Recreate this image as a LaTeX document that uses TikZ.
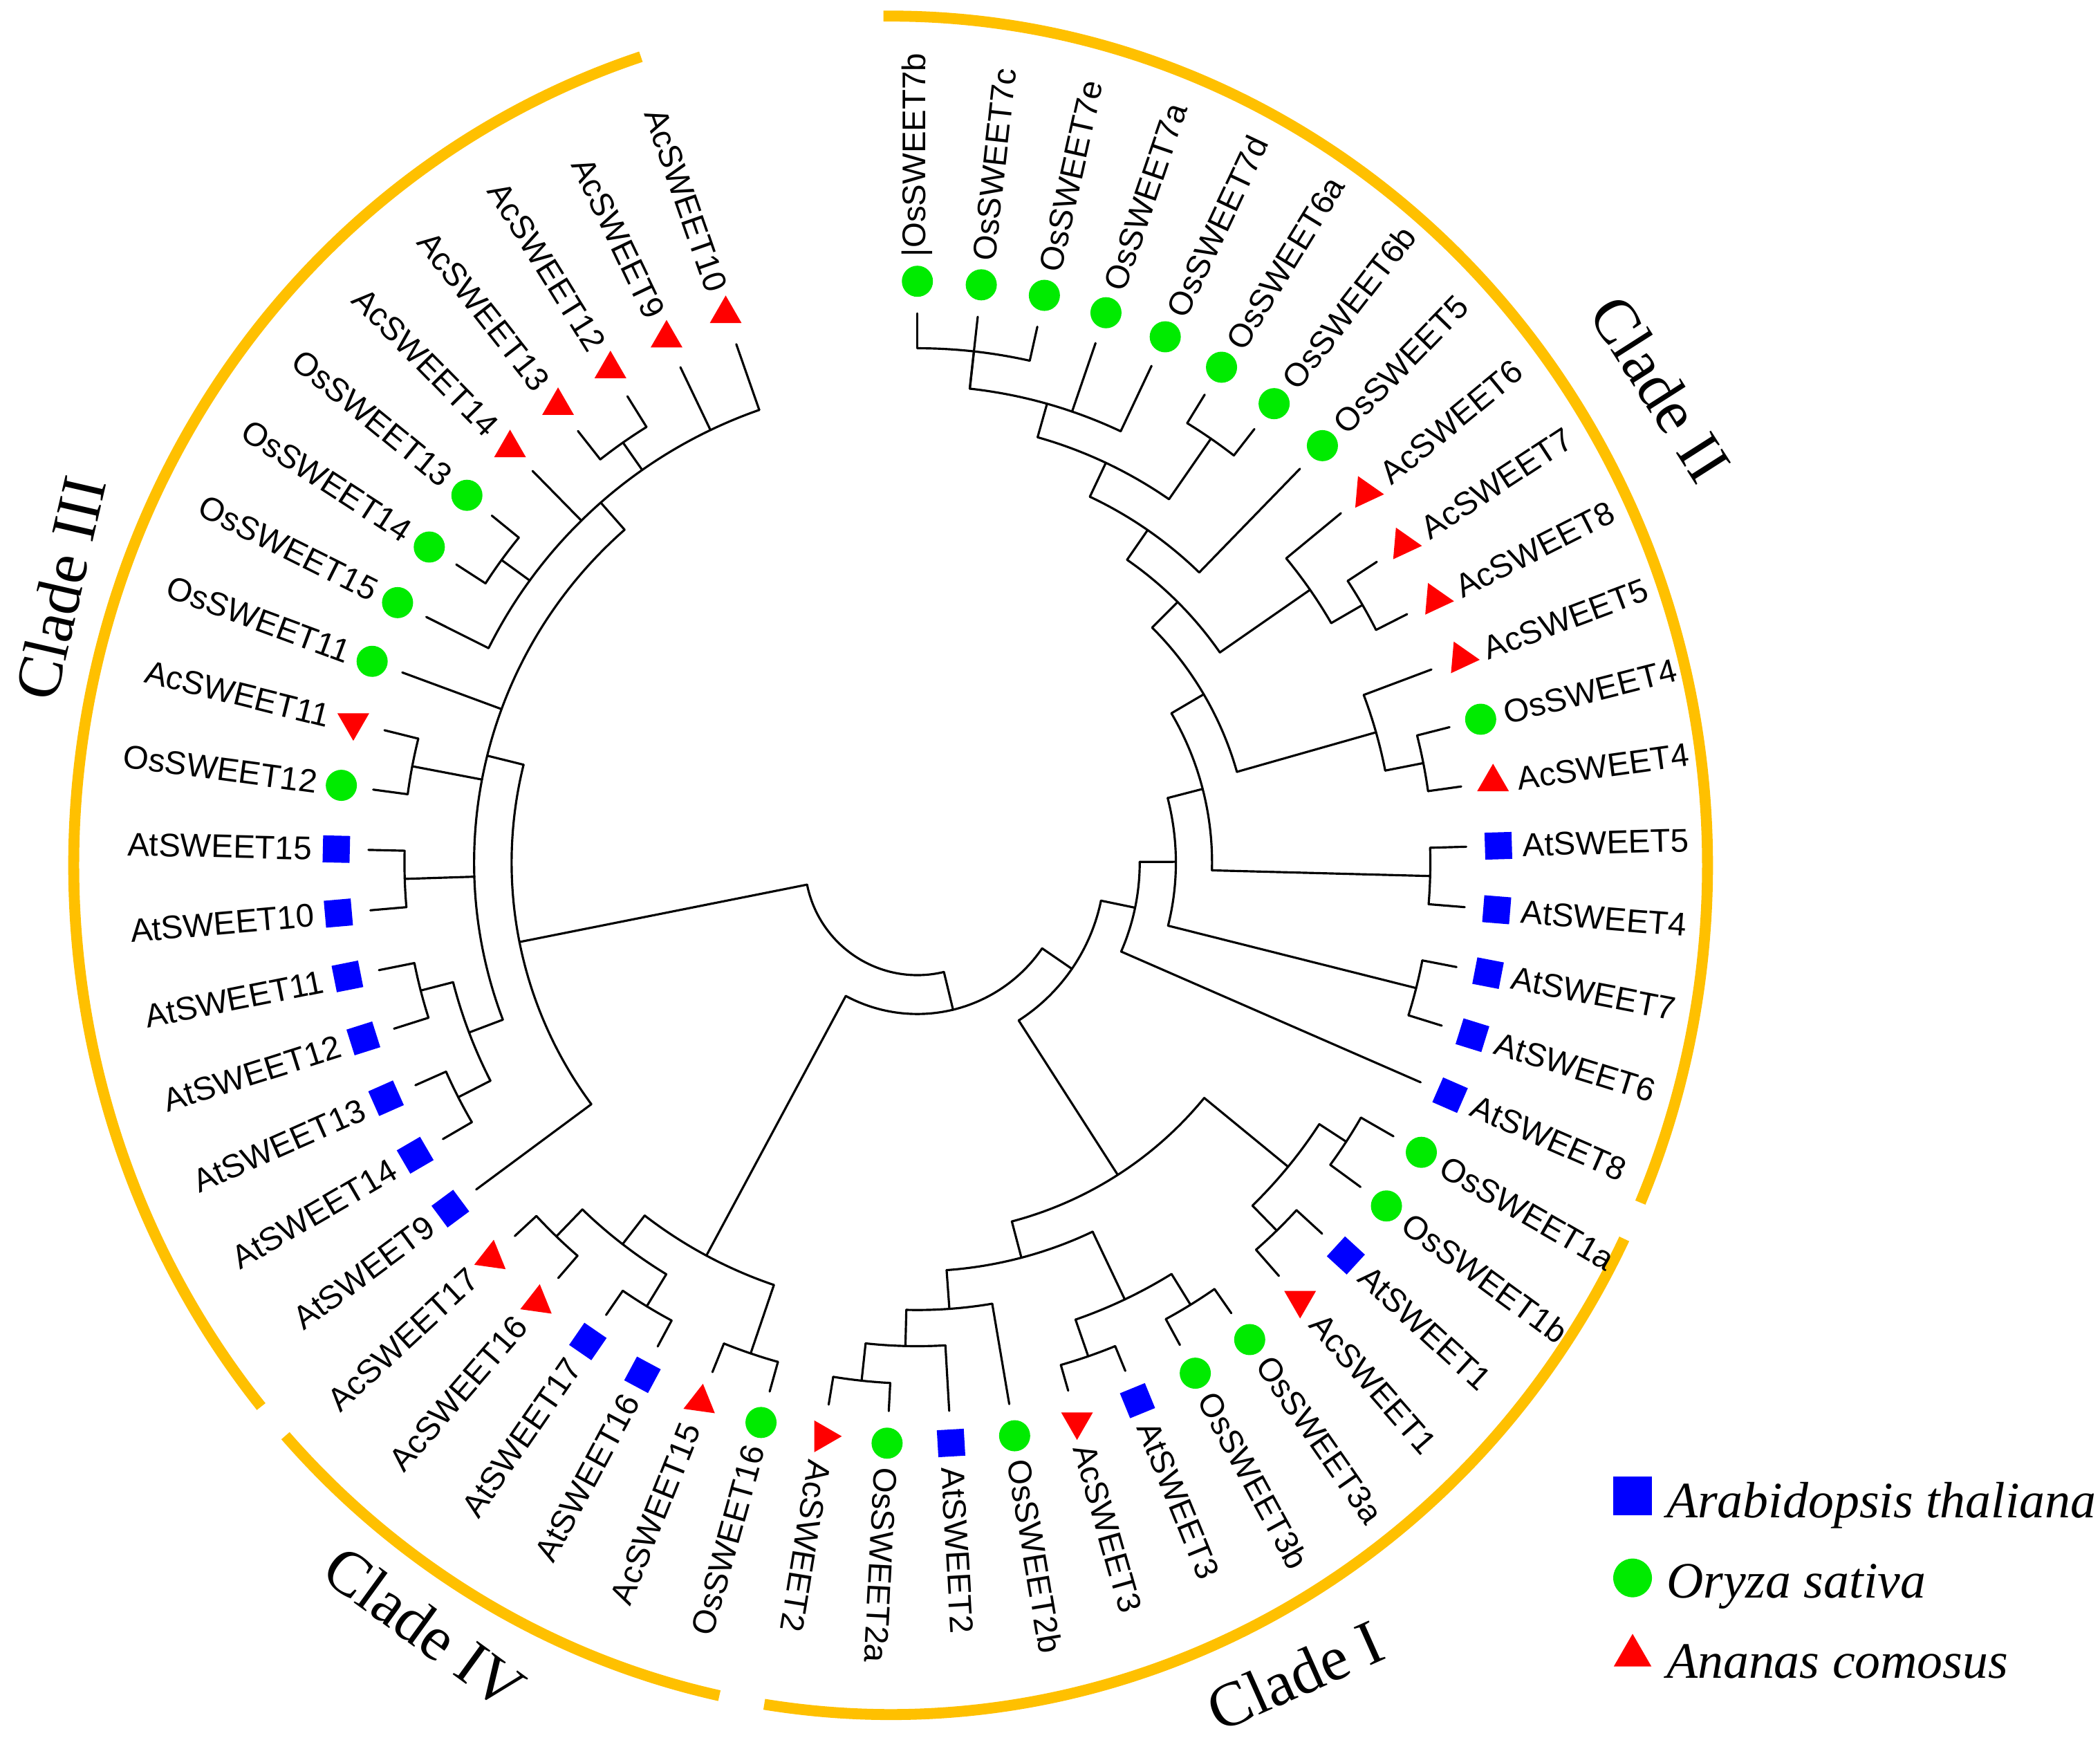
\documentclass[tikz,border=0pt]{standalone}
\usepackage{fontspec}
\setmainfont{Liberation Serif}
\newfontfamily\genefont{Liberation Sans}
\usetikzlibrary{shapes.geometric}
\definecolor{cladeorange}{RGB}{255,192,0}
\definecolor{atblue}{RGB}{0,0,255}
\definecolor{osgreen}{RGB}{0,235,0}
\definecolor{acred}{RGB}{255,0,0}
\newcommand{\leafstep}{6.31}
\newcommand{\tipradius}{410}
\newcommand{\markradius}{434}
\newcommand{\labelradius}{452}

\tikzset{
  branch/.style={line width=0.9pt, line cap=round, line join=round},
  atshape/.style={rectangle, fill=atblue, inner sep=0pt},
  osshape/.style={circle, fill=osgreen, inner sep=0pt},
  acshape/.style={regular polygon, regular polygon sides=3, fill=acred, inner sep=0pt},
  atmark/.style={atshape, minimum size=3.9mm, rotate=\a},
  osmark/.style={osshape, minimum size=4.5mm},
  acmark/.style={acshape, minimum size=5.3mm},
  genelabel/.style={inner sep=0pt, font={\genefont\fontsize{13.5}{16}\selectfont}},
  cladering/.style={draw=cladeorange, line width=4.5pt},
  cladelabel/.style={inner sep=0pt, font={\fontsize{26}{30}\selectfont}},
  legendtext/.style={anchor=base west, inner sep=0pt, font={\itshape\fontsize{21}{24}\selectfont}}
}

\begin{document}
\begin{tikzpicture}[x=0.19369mm, y=0.19369mm]
  \useasboundingbox (-685,-668) rectangle (883,644);

  % orange clade rings
  \draw[cladering] (-20,-2) ++(90.5:610 and 634) arc[start angle=90.5, end angle=-23.4, x radius=610, y radius=634];
  \draw[cladering] (-20,-2) ++(-26.1:610 and 634) arc[start angle=-26.1, end angle=-98.9, x radius=610, y radius=634];
  \draw[cladering] (-20,-2) ++(-102.1:610 and 634) arc[start angle=-102.1, end angle=-137.8, x radius=610, y radius=634];
  \draw[cladering] (-20,-2) ++(-140.4:610 and 634) arc[start angle=-140.4, end angle=-252.2, x radius=610, y radius=634];

  % internal branches: name/radius/first/last/stem/parent radius
  \foreach \nm/\r/\aa/\ab/\st/\pr in {
      os7be/384/90/77.38/83.69/356, os7/356/83.69/64.76/74.22/330,
      os6ab/385/58.45/52.14/55.30/330, os67/330/74.22/55.30/64.76/302,
      os567/302/64.76/45.83/55.30/275, ac78/384/33.21/26.90/30.06/357,
      ac678/357/39.52/30.06/34.79/275, osac/275/55.30/34.79/45.04/248,
      osac4/385/14.28/7.97/11.13/356, ac5os4/356/20.59/11.13/15.86/248,
      cladeIIa/248/45.04/15.86/30.45/220, at45/383/1.66/-4.65/-1.50/220,
      cladeIIb/220/30.45/-1.50/14.48/193, at67/384/-10.96/-17.27/-14.12/193,
      cladeIIc/193/14.48/-14.12/0.18/166, cladeII/166/0.18/-23.58/-11.70/140,
      os1ab/382/-29.89/-36.20/-33.05/358, atac1/384/-42.51/-48.82/-45.67/358,
      cladeIa/358/-33.05/-45.67/-39.36/277, os3ab/388/-55.13/-61.44/-58.29/361,
      atac3/390/-67.75/-74.06/-70.91/361, cladeIb/361/-58.29/-70.91/-64.60/305,
      osac2/389/-92.99/-99.30/-96.15/361, at2os2/361/-86.68/-96.15/-91.42/334,
      os2b/334/-80.37/-91.42/-85.90/305, cladeIc/305/-64.60/-85.90/-75.25/277,
      cladeI/277/-39.36/-75.25/-57.31/140, cladeIandII/140/-11.70/-57.31/-34.50/113,
      osac15/387/-105.61/-111.92/-108.77/333, at1617/388/-118.23/-124.54/-121.39/360,
      ac1617/388/-130.85/-137.16/-134.01/360, atac16/360/-121.39/-134.01/-127.70/333,
      cladeIV/333/-108.77/-127.70/-118.24/113, cladeIIV/113/-34.50/-118.24/-76.37/84,
      at1314/385/-149.78/-156.09/-152.94/358, at1112/383/-162.40/-168.71/-165.56/358,
      at1114/358/-152.94/-165.56/-159.25/331, at1015/383/-175.02/-181.33/-178.18/331,
      osac12/384/-187.64/-193.95/-190.80/331, os1314/384/-212.88/-219.19/-216.04/358,
      ac1213/383/-231.81/-238.12/-234.97/358, acos/358/-206.57/-250.74/-228.66/331,
      cladeIIIa/331/-159.25/-228.66/-193.96/303, cladeIII/303/-143.47/-193.96/-168.72/84}{
    \coordinate (\nm) at (\st:\r);
    \draw[branch] (\aa:\r) arc[start angle=\aa, end angle=\ab, radius=\r];
    \draw[branch] (\nm) -- (\st:\pr);
  }
  % root
  \coordinate (root) at (-122.5:84);
  \draw[branch] (-76.37:84) arc[start angle=-76.37, end angle=-168.72, radius=84];

  % leaves: index/label/species/parent radius/marker turn
  \foreach \i/\name/\sp/\pr/\tr in {
      1/{|OsSWEET7b}/os/384/0, 2/OsSWEET7c/os/356/0, 3/OsSWEET7e/os/384/0,
      4/OsSWEET7a/os/356/0, 5/OsSWEET7d/os/356/0, 6/OsSWEET6a/os/385/0,
      7/OsSWEET6b/os/385/0, 8/OsSWEET5/os/302/0, 9/AcSWEET6/ac/357/-95,
      10/AcSWEET7/ac/384/-95, 11/AcSWEET8/ac/384/-95, 12/AcSWEET5/ac/356/-95,
      13/OsSWEET4/os/385/0, 14/AcSWEET4/ac/385/0, 15/AtSWEET5/at/383/0,
      16/AtSWEET4/at/383/0, 17/AtSWEET7/at/384/0, 18/AtSWEET6/at/384/0,
      19/AtSWEET8/at/166/0, 20/OsSWEET1a/os/382/0, 21/OsSWEET1b/os/382/0,
      22/AtSWEET1/at/384/0, 23/AcSWEET1/ac/384/180, 24/OsSWEET3a/os/388/0,
      25/OsSWEET3b/os/388/0, 26/AtSWEET3/at/390/0, 27/AcSWEET3/ac/390/180,
      28/OsSWEET2b/os/334/0, 29/AtSWEET2/at/361/0, 30/OsSWEET2a/os/389/0,
      31/AcSWEET2/ac/389/-90, 32/OsSWEET16/os/387/0, 33/AcSWEET15/ac/387/-8,
      34/AtSWEET16/at/388/0, 35/AtSWEET17/at/388/0, 36/AcSWEET16/ac/388/-8,
      37/AcSWEET17/ac/388/-8, 38/AtSWEET9/at/303/0, 39/AtSWEET14/at/385/0,
      40/AtSWEET13/at/385/0, 41/AtSWEET12/at/383/0, 42/AtSWEET11/at/383/0,
      43/AtSWEET10/at/383/0, 44/AtSWEET15/at/383/0, 45/OsSWEET12/os/384/0,
      46/AcSWEET11/ac/384/180, 47/OsSWEET11/os/331/0, 48/OsSWEET15/os/358/0,
      49/OsSWEET14/os/384/0, 50/OsSWEET13/os/384/0, 51/AcSWEET14/ac/358/0,
      52/AcSWEET13/ac/383/0, 53/AcSWEET12/ac/383/0, 54/AcSWEET9/ac/358/0,
      55/AcSWEET10/ac/358/0}{
    \pgfmathsetmacro{\a}{90-\leafstep*(\i-1)}
    \pgfmathsetmacro{\b}{\a+180}
    \coordinate (tip\i) at (\a:\tipradius);
    \draw[branch] (\a:\pr) -- (tip\i);
    \node[\sp mark, rotate=\tr] (m\i) at (\a:\markradius) {};
    \ifnum\i<32
      \node[genelabel, anchor=west, rotate=\a] (lab\i) at (\a:\labelradius) {\name};
    \else
      \node[genelabel, anchor=east, rotate=\b] (lab\i) at (\a:\labelradius) {\name};
    \fi
  }

  % clade names
  \node[cladelabel, rotate=-57.5] (nameII) at (555,354) {Clade II};
  \node[cladelabel, rotate=77] (nameIII) at (-640,205) {Clade III};
  \node[cladelabel, rotate=-36] (nameIV) at (-368,-571) {Clade IV};
  \node[cladelabel, rotate=24] (nameI) at (282,-607) {Clade I};

  % legend
  \node[atshape, minimum size=5.6mm] (keyat) at (534,-473) {};
  \node[osshape, minimum size=5.6mm] (keyos) at (534,-534) {};
  \node[acshape, minimum size=6.3mm] (keyac) at (534,-592) {};
  \node[legendtext] (keyattext) at (559,-489) {Arabidopsis thaliana};
  \node[legendtext] (keyostext) at (559,-549) {Oryza sativa};
  \node[legendtext] (keyactext) at (559,-609) {Ananas comosus};
\end{tikzpicture}
\end{document}
